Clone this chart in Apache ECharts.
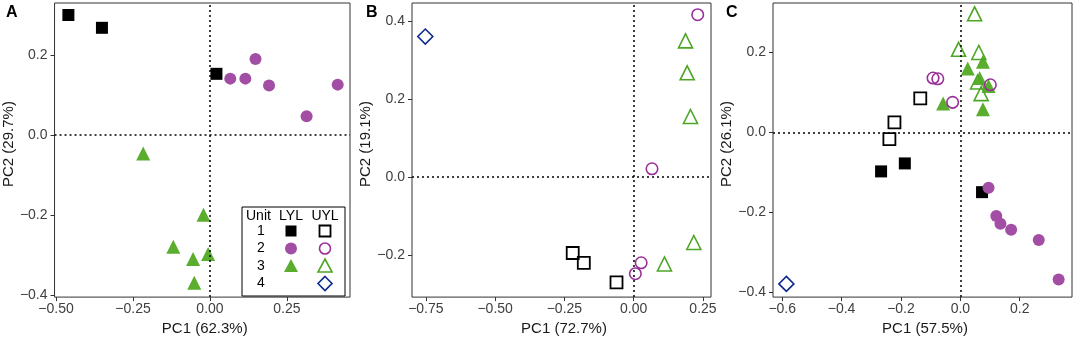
<!DOCTYPE html>
<html>
<head>
<meta charset="utf-8">
<script src="https://cdn.jsdelivr.net/npm/echarts@6/dist/echarts.min.js"></script>
<style>
  html, body { margin: 0; padding: 0; background: #fff; }
  #chart { width: 1074px; height: 341px; }
</style>
</head>
<body>
<div id="chart"></div>
<script>
// ---- data (PC1, PC2) ----
// panel A
const aSquareLYL = [[-0.46, 0.30], [-0.351, 0.268], [0.021, 0.153]]
const aCircleLYL = [[0.066, 0.141], [0.115, 0.141], [0.148, 0.19], [0.192, 0.124], [0.314, 0.047], [0.415, 0.126]]
const aTriLYL = [[-0.217, -0.046], [-0.021, -0.199], [-0.119, -0.279], [-0.006, -0.297], [-0.055, -0.31], [-0.051, -0.369]]
// panel B
const bSquareUYL = [[-0.22, -0.195], [-0.18, -0.22], [-0.062, -0.27]]
const bCircleUYL = [[0.231, 0.416], [0.066, 0.021], [0.027, -0.22], [0.006, -0.248]]
const bTriUYL = [[0.187, 0.349], [0.193, 0.267], [0.205, 0.155], [0.217, -0.168], [0.111, -0.223]]
const bDiamondUYL = [[-0.752, 0.36]]
// panel C
const cSquareLYL = [[-0.267, -0.098], [-0.187, -0.078], [0.073, -0.15]]
const cSquareUYL = [[-0.135, 0.085], [-0.222, 0.025], [-0.239, -0.017]]
const cCircleLYL = [[0.095, -0.139], [0.121, -0.21], [0.135, -0.229], [0.171, -0.244], [0.264, -0.27], [0.331, -0.369]]
const cCircleUYL = [[-0.092, 0.136], [-0.076, 0.134], [-0.026, 0.075], [0.101, 0.119]]
const cTriLYL = [[0.076, 0.177], [0.025, 0.16], [0.065, 0.136], [0.095, 0.116], [0.076, 0.058], [-0.058, 0.072]]
const cTriUYL = [[0.048, 0.297], [-0.006, 0.208], [0.062, 0.2], [0.058, 0.126], [0.07, 0.097]]
const cDiamondUYL = [[-0.586, -0.38]]

// ---- axis ticks and titles ----
const aXTicks = [-0.5, -0.25, 0, 0.25]
const aYTicks = [-0.4, -0.2, 0, 0.2]
const bXTicks = [-0.75, -0.5, -0.25, 0, 0.25]
const bYTicks = [-0.2, 0, 0.2, 0.4]
const cXTicks = [-0.6, -0.4, -0.2, 0, 0.2]
const cYTicks = [-0.4, -0.2, 0, 0.2]
const xTitles = ['PC1 (62.3%)', 'PC1 (72.7%)', 'PC1 (57.5%)']
const yTitles = ['PC2 (29.7%)', 'PC2 (19.1%)', 'PC2 (26.1%)']
const panelLabels = ['A', 'B', 'C']
const legendUnits = ['1', '2', '3', '4']

const FONT = '"Liberation Sans", Arial, sans-serif'
const BLACK = '#000000'
const PURPLE = '#a34ea5'
const PURPLE_LINE = '#9a2f9a'
const GREEN = '#5aad2d'
const GREEN_LINE = '#4ea626'
const NAVY = '#0b2a8e'

const fmt = (d) => (v) => Number(v).toFixed(d).replace('-', '\u2212')

const grids = [
  { left: 51, top: 3, width: 299, height: 299 },
  { left: 412, top: 3, width: 299, height: 299 },
  { left: 773, top: 3, width: 299, height: 299 }
].map(g => ({ ...g, show: true, borderColor: '#333', borderWidth: 1, backgroundColor: '#fff' }))

const makeX = (i, min, max, ticks, dec) => ({
  type: 'value', gridIndex: i, min, max,
  name: xTitles[i], nameLocation: 'middle', nameGap: 18,
  nameTextStyle: { fontFamily: FONT, fontSize: 15, color: '#1a1a1a', padding: [0, 0, 0, 5] },
  axisLine: { show: false, onZero: false },
  axisTick: { show: true, length: 4, customValues: ticks, lineStyle: { color: '#333' } },
  axisLabel: { customValues: ticks, formatter: fmt(dec), margin: 5, fontFamily: FONT, fontSize: 14, color: '#404040' },
  splitLine: { show: false }
})

const makeY = (i, min, max, ticks) => ({
  type: 'value', gridIndex: i, min, max,
  name: yTitles[i], nameLocation: 'middle', nameGap: 33,
  nameTextStyle: { fontFamily: FONT, fontSize: 15, color: '#1a1a1a', padding: [0, 0, 0, 12] },
  axisLine: { show: false, onZero: false },
  axisTick: { show: true, length: 4, customValues: ticks, lineStyle: { color: '#333' } },
  axisLabel: { customValues: ticks, formatter: fmt(1), margin: 7, fontFamily: FONT, fontSize: 14, color: '#404040' },
  splitLine: { show: false }
})

const zeroLines = {
  silent: true,
  symbol: ['none', 'none'],
  label: { show: false },
  animation: false,
  lineStyle: { type: [2, 3], color: '#000', width: 1.5 },
  data: [{ xAxis: 0 }, { yAxis: 0 }]
}

const filled = (i, data, symbol, size, color) => ({
  type: 'scatter', xAxisIndex: i, yAxisIndex: i, data, symbol, symbolSize: size,
  itemStyle: { color, opacity: 1 }, animation: false, silent: true
})
const hollow = (i, data, symbol, size, color, w) => ({
  type: 'scatter', xAxisIndex: i, yAxisIndex: i, data, symbol, symbolSize: size,
  itemStyle: { color: 'rgba(0,0,0,0)', borderColor: color, borderWidth: w || 1.6, opacity: 1 },
  animation: false, silent: true
})

const series = [
  { ...filled(0, aSquareLYL, 'rect', 12, BLACK), markLine: zeroLines },
  filled(0, aCircleLYL, 'circle', 12, PURPLE),
  filled(0, aTriLYL, 'triangle', 14, GREEN),

  { ...hollow(1, bSquareUYL, 'rect', 12, BLACK, 1.8), markLine: zeroLines },
  hollow(1, bCircleUYL, 'circle', 11.5, PURPLE_LINE),
  hollow(1, bTriUYL, 'triangle', 14, GREEN_LINE),
  hollow(1, bDiamondUYL, 'diamond', 15, NAVY),

  { ...filled(2, cSquareLYL, 'rect', 12, BLACK), markLine: zeroLines },
  hollow(2, cSquareUYL, 'rect', 12, BLACK, 1.8),
  filled(2, cCircleLYL, 'circle', 12, PURPLE),
  filled(2, cTriLYL, 'triangle', 14, GREEN),
  hollow(2, cTriUYL, 'triangle', 14, GREEN_LINE),
  hollow(2, cCircleUYL, 'circle', 11.5, PURPLE_LINE),
  hollow(2, cDiamondUYL, 'diamond', 15, NAVY)
]

// legend box inside panel A (Unit x LYL/UYL table)
const lx = 242, ly = 207
const colNum = lx + 19, colL = lx + 49, colU = lx + 83
const rowY = [ly + 24, ly + 41.5, ly + 59, ly + 76.5]
const txt = (text, x, y, align) => ({
  type: 'text', x, y, z: 20,
  style: { text, font: '14px ' + FONT, fill: '#000', align, verticalAlign: 'middle' }
})
const tri = (cx, cy, s) => [[cx, cy - s / 2], [cx + s / 2, cy + s / 2 - 1], [cx - s / 2, cy + s / 2 - 1]]
const legendGraphic = [
  { type: 'rect', z: 19, shape: { x: lx, y: ly, width: 103, height: 89 }, style: { fill: '#fff', stroke: '#000', lineWidth: 1 } },
  txt('Unit', lx + 4, ly + 9, 'left'),
  txt('LYL', colL, ly + 9, 'center'),
  txt('UYL', colU, ly + 9, 'center'),
  ...legendUnits.map((u, k) => txt(u, colNum, rowY[k], 'center')),
  { type: 'rect', z: 20, shape: { x: colL - 5.5, y: rowY[0] - 5.5, width: 11, height: 11 }, style: { fill: BLACK } },
  { type: 'rect', z: 20, shape: { x: colU - 5.5, y: rowY[0] - 5.5, width: 11, height: 11 }, style: { fill: 'none', stroke: BLACK, lineWidth: 1.8 } },
  { type: 'circle', z: 20, shape: { cx: colL, cy: rowY[1], r: 6 }, style: { fill: PURPLE } },
  { type: 'circle', z: 20, shape: { cx: colU, cy: rowY[1], r: 5.5 }, style: { fill: 'none', stroke: PURPLE_LINE, lineWidth: 1.6 } },
  { type: 'polygon', z: 20, shape: { points: tri(colL, rowY[2], 14) }, style: { fill: GREEN } },
  { type: 'polygon', z: 20, shape: { points: tri(colU, rowY[2], 14) }, style: { fill: 'none', stroke: GREEN_LINE, lineWidth: 1.6 } },
  { type: 'polygon', z: 20, shape: { points: [[colU, rowY[3] - 7], [colU + 7, rowY[3]], [colU, rowY[3] + 7], [colU - 7, rowY[3]]] }, style: { fill: 'none', stroke: NAVY, lineWidth: 1.6 } }
]

const labelGraphic = panelLabels.map((t, k) => ({
  type: 'text', x: [6, 366, 726][k], y: 13, z: 20,
  style: { text: t, font: 'bold 16px ' + FONT, fill: '#000', verticalAlign: 'middle' }
}))

const chart = echarts.init(document.getElementById('chart'))
chart.setOption({
  animation: false,
  backgroundColor: '#fff',
  grid: grids,
  xAxis: [
    makeX(0, -0.505, 0.455, aXTicks, 2),
    makeX(1, -0.80, 0.279, bXTicks, 2),
    makeX(2, -0.631, 0.376, cXTicks, 1)
  ],
  yAxis: [
    makeY(0, -0.405, 0.33, aYTicks),
    makeY(1, -0.308, 0.446, bYTicks),
    makeY(2, -0.413, 0.324, cYTicks)
  ],
  series,
  graphic: [...legendGraphic, ...labelGraphic]
})
</script>
</body>
</html>
